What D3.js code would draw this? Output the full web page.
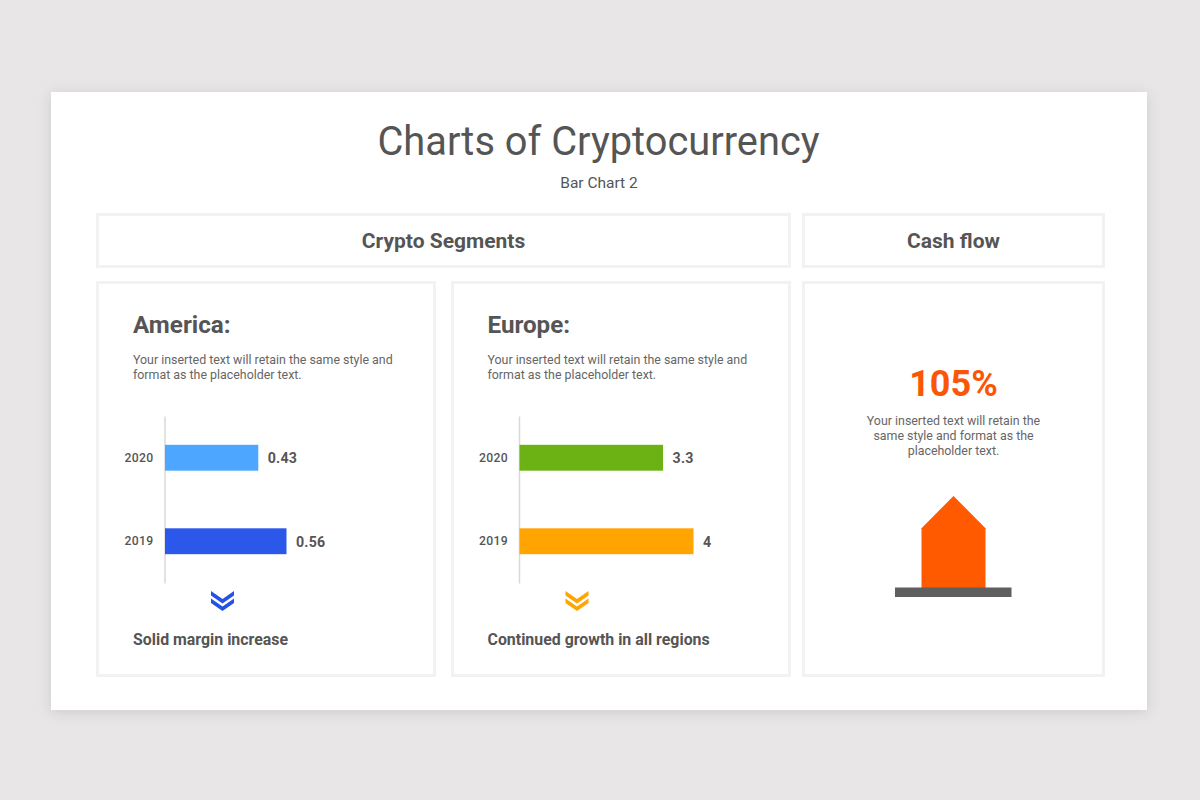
<!DOCTYPE html>
<html>
<head>
<meta charset="utf-8">
<script src="https://cdn.jsdelivr.net/npm/d3@7"></script>
<style>
  html, body { margin: 0; padding: 0; background: #e8e6e7; }
  svg { display: block; }
  text { font-family: Roboto, sans-serif; fill: #555; }
</style>
</head>
<body>
<div id="vis"></div>
<script>
const width = 1200;
const height = 800;

// Chart values
const years = ["2020", "2019"];
const americaValues = [0.43, 0.56];
const americaLabels = ["0.43", "0.56"];
const americaColors = ["#4da6ff", "#2b57ea"];
const europeValues = [3.3, 4];
const europeLabels = ["3.3", "4"];
const europeColors = ["#6db215", "#ffa400"];
const cashFlowPercent = 105;

const bodyText = ["Your inserted text will retain the same style and", "format as the placeholder text."];
const cashText = ["Your inserted text will retain the", "same style and format as the", "placeholder text."];

const svg = d3.select("#vis")
  .append("svg")
  .attr("width", width)
  .attr("height", height);

// Soft shadow under the white slide
const defs = svg.append("defs");
const shadow = defs.append("filter")
  .attr("id", "slide-shadow")
  .attr("x", "-5%").attr("y", "-5%")
  .attr("width", "110%").attr("height", "112%");
shadow.append("feDropShadow")
  .attr("dx", 0).attr("dy", 2)
  .attr("stdDeviation", 7)
  .attr("flood-color", "#000")
  .attr("flood-opacity", 0.12);

svg.append("rect")
  .attr("x", 51).attr("y", 92)
  .attr("width", 1096).attr("height", 618)
  .attr("fill", "#fff")
  .attr("filter", "url(#slide-shadow)");

// Helpers
function addText(x, y, str, size, weight, anchor, color) {
  return svg.append("text")
    .attr("x", x).attr("y", y)
    .attr("text-anchor", anchor || "start")
    .style("font-size", size + "px")
    .style("font-weight", weight || 400)
    .style("fill", color || "#555")
    .text(str);
}

function addBox(x, y, w, h) {
  svg.append("rect")
    .attr("x", x + 1.5).attr("y", y + 1.5)
    .attr("width", w - 3).attr("height", h - 3)
    .attr("fill", "#fff")
    .attr("stroke", "#f2f2f2")
    .attr("stroke-width", 3);
}

// Title
addText(598.5, 155, "Charts of Cryptocurrency", 39.8, 400, "middle");
addText(599, 187.5, "Bar Chart 2", 15.5, 400, "middle");

// Boxes
addBox(96, 213, 695, 55);
addBox(802, 213, 303, 55);
addBox(96, 281, 340, 396);
addBox(451, 281, 340, 396);
addBox(802, 281, 303, 396);

addText(443.5, 248, "Crypto Segments", 21, 700, "middle");
addText(953.5, 248, "Cash flow", 21, 700, "middle");

// One bar panel (America / Europe)
function barPanel(opts) {
  const g = svg.append("g").attr("transform", `translate(${opts.x},0)`);

  const x = d3.scaleLinear().domain([0, opts.max]).range([0, opts.barSpan]);
  const y = d3.scaleBand().domain(years).range([416, 583]).paddingInner(0.69).paddingOuter(0.345);

  const axis = g.append("g").call(d3.axisLeft(y).tickSize(0).tickPadding(11));
  axis.select(".domain").attr("stroke", "#d9d9d9").attr("stroke-width", 1.5);
  axis.selectAll("text")
    .style("font-family", "Roboto, sans-serif")
    .style("font-size", "12.2px")
    .style("font-weight", 500)
    .style("letter-spacing", "0.3px")
    .style("fill", "#555");

  g.selectAll("rect.bar")
    .data(opts.values)
    .join("rect")
    .attr("class", "bar")
    .attr("x", 0.5)
    .attr("y", (d, i) => y(years[i]))
    .attr("width", d => x(d))
    .attr("height", y.bandwidth())
    .attr("fill", (d, i) => opts.colors[i]);

  g.selectAll("text.value")
    .data(opts.values)
    .join("text")
    .attr("class", "value")
    .attr("x", d => x(d) + 10)
    .attr("y", (d, i) => y(years[i]) + y.bandwidth() / 2 + 5.5)
    .style("font-size", "14.2px")
    .style("font-weight", 700)
    .style("letter-spacing", "0.2px")
    .text((d, i) => opts.labels[i]);

  // Double chevron
  const chevron = d3.line();
  [0, 7.5].forEach(dy => {
    const top = 591 + dy;
    g.append("path")
      .attr("d", chevron([[46.5, top], [58, top + 8], [69.5, top],
        [69.5, top + 4.5], [58, top + 12.5], [46.5, top + 4.5]]) + "Z")
      .attr("fill", opts.chevron);
  });

  const left = opts.x - 31.5;
  addText(left, 333, opts.name, 24.2, 700);
  bodyText.forEach((t, i) => addText(left, 364 + i * 15.2, t, 12.4, 400, "start", "#666"));
  addText(left, 645, opts.note, 15.9, 700);
}

barPanel({
  x: 164.5, name: "America:", values: americaValues, labels: americaLabels,
  colors: americaColors, max: 0.56, barSpan: 121.5,
  chevron: "#2451e6", note: "Solid margin increase"
});

barPanel({
  x: 519, name: "Europe:", values: europeValues, labels: europeLabels,
  colors: europeColors, max: 4, barSpan: 174,
  chevron: "#ffa400", note: "Continued growth in all regions"
});

// Cash flow panel
addText(953.5, 396, cashFlowPercent + "%", 36, 700, "middle", "#fb5607");
cashText.forEach((t, i) => addText(953.5, 425 + i * 15, t, 12.4, 400, "middle", "#666"));

const houseY = d3.scaleLinear().domain([0, cashFlowPercent]).range([588, 496]);
const shoulder = cashFlowPercent * 0.65;
const house = d3.line().x(d => d[0]).y(d => houseY(d[1]));
svg.append("path")
  .attr("d", house([
    [921.5, 0], [921.5, shoulder], [953.5, cashFlowPercent], [985.5, shoulder], [985.5, 0]
  ]) + "Z")
  .attr("fill", "#ff5a00");

svg.append("rect")
  .attr("x", 895).attr("y", 587.5)
  .attr("width", 116.5).attr("height", 9.5)
  .attr("fill", "#5f5f5f");
</script>
</body>
</html>
